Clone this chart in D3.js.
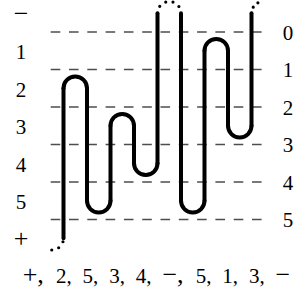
<!DOCTYPE html>
<html>
<head>
<meta charset="utf-8">
<script src="https://cdn.jsdelivr.net/npm/d3@7"></script>
<style>
  body { margin: 0; background: #fff; }
</style>
</head>
<body>
<div class="chart"></div>
<script>
// levels on the left (between the dashed lines), lines labelled on the right
const levels = ['−', '1', '2', '3', '4', '5', '+'];
const lineLabels = ['0', '1', '2', '3', '4', '5'];
// level of each arc, left to right; odd arcs are above, even arcs below
const arcSeq = ['+', '2', '5', '3', '4', '−', '5', '1', '3', '−'];
const infinite = ['−', '+'];

const width = 295;
const height = 299;

const svg = d3
  .select('.chart')
  .append('svg')
  .attr('width', width)
  .attr('height', height);

const y = d3.scalePoint().domain(levels).range([13.25, 238.25]);
const yLine = d3.scaleLinear().domain([0, lineLabels.length - 1]).range([32, 219.5]);
const strands = d3.range(arcSeq.length - 1);
const x = d3.scaleLinear().domain([0, strands.length - 1]).range([63.5, 251.5]);
const r = (x(1) - x(0)) / 2;

const serif = "'Liberation Serif', 'Times New Roman', serif";
const isSign = (s) => infinite.includes(s);
const fontSize = (d) => (isSign(d) ? '26px' : '21px');

// dashed lines
svg
  .selectAll('line.grid')
  .data(lineLabels)
  .enter()
  .append('line')
  .attr('class', 'grid')
  .attr('x1', 50.7)
  .attr('x2', 263)
  .attr('y1', (d, i) => yLine(i))
  .attr('y2', (d, i) => yLine(i))
  .attr('stroke', '#4d4d4d')
  .attr('stroke-width', 1.4)
  .attr('stroke-dasharray', '9.6 8.7');

// left labels
svg
  .selectAll('text.level')
  .data(levels)
  .enter()
  .append('text')
  .attr('class', 'level')
  .attr('x', 21)
  .attr('y', (d) => y(d) + 8.5)
  .attr('text-anchor', 'middle')
  .style('font-family', serif)
  .style('font-size', fontSize)
  .text((d) => d);

// right labels
svg
  .selectAll('text.line')
  .data(lineLabels)
  .enter()
  .append('text')
  .attr('class', 'line')
  .attr('x', 288)
  .attr('y', (d, i) => yLine(i) + 7.5)
  .attr('text-anchor', 'middle')
  .style('font-family', serif)
  .style('font-size', '21px')
  .text((d) => d);

// vertical strands: strand j runs between arc j and arc j+1
svg
  .selectAll('line.strand')
  .data(strands)
  .enter()
  .append('line')
  .attr('class', 'strand')
  .attr('x1', (j) => x(j))
  .attr('x2', (j) => x(j))
  .attr('y1', (j) => y(arcSeq[j]))
  .attr('y2', (j) => y(arcSeq[j + 1]))
  .attr('stroke', '#000')
  .attr('stroke-width', 4)
  .attr('stroke-linecap', 'round');

// arcs
const endSweep = 64;
const arcPath = (d, i) => {
  const cy = y(d);
  if (i === 0) {
    // partial arc entering the first strand from below-left
    return `M${x(0) - r},${cy + r} A${r},${r} 0 0 0 ${x(0)},${cy}`;
  }
  if (i === arcSeq.length - 1) {
    // partial arc leaving the last strand to the upper right
    const a = ((180 + endSweep) * Math.PI) / 180;
    const cx = x(strands.length - 1) + r;
    return `M${cx - r},${cy} A${r},${r} 0 0 1 ${cx + r * Math.cos(a)},${cy + r * Math.sin(a)}`;
  }
  const top = i % 2 === 1;
  return `M${x(i - 1)},${cy} A${r},${r} 0 0 ${top ? 1 : 0} ${x(i)},${cy}`;
};

svg
  .selectAll('path.arc')
  .data(arcSeq)
  .enter()
  .append('path')
  .attr('class', 'arc')
  .attr('d', arcPath)
  .attr('fill', 'none')
  .attr('stroke', '#000')
  .attr('stroke-width', (d) => (isSign(d) ? 3.2 : 4))
  .attr('stroke-linecap', 'round')
  .attr('stroke-dasharray', (d, i) => {
    if (!isSign(d)) return null;
    if (i === 0) return `0 ${(Math.PI * r) / 2 / 2.5}`;
    if (i === arcSeq.length - 1) return `0 ${(r * 31 * Math.PI) / 180}`;
    return `0 ${(Math.PI * r) / 5}`;
  });

// sequence underneath
const caption = svg
  .append('text')
  .attr('x', 22.7)
  .attr('y', 283)
  .style('font-family', serif)
  .style('font-size', '21px')
  .style('word-spacing', '5.6px')
  .style('white-space', 'pre');

caption
  .selectAll('tspan')
  .data(arcSeq)
  .enter()
  .append('tspan')
  .style('font-size', fontSize)
  .text((d, i) => (i < arcSeq.length - 1 ? `${d}, ` : d));
</script>
</body>
</html>
